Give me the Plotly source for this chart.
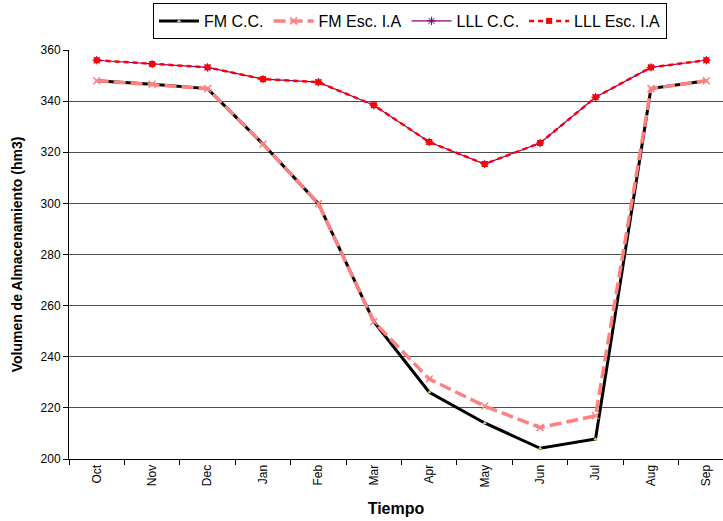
import plotly.graph_objects as go

months = ["Oct", "Nov", "Dec", "Jan", "Feb", "Mar", "Apr", "May", "Jun", "Jul", "Aug", "Sep"]
fm_cc = [348.0, 346.6, 344.9, 323.2, 299.9, 253.7, 226.1, 214.1, 204.2, 207.8, 344.9, 348.0]
fm_esc = [348.0, 346.6, 344.9, 323.2, 299.9, 253.7, 231.3, 220.7, 212.3, 216.9, 344.9, 348.0]
lll_cc = [356.0, 354.5, 353.2, 348.6, 347.4, 338.4, 324.0, 315.4, 323.6, 341.5, 353.2, 356.0]
lll_esc = [356.0, 354.5, 353.2, 348.6, 347.4, 338.4, 324.0, 315.4, 323.6, 341.5, 353.2, 356.0]

font_family = "Arial, Liberation Sans, sans-serif"

fig = go.Figure()
fig.add_trace(go.Scatter(
    x=months, y=fm_cc, name="FM C.C.", mode="lines+markers",
    line=dict(color="#000000", width=3),
    marker=dict(symbol="triangle-up", size=4, color="#C8C864"),
))
fig.add_trace(go.Scatter(
    x=months, y=fm_esc, name="FM Esc. I.A", mode="lines+markers",
    line=dict(color="#FF8080", width=3.5, dash="12px,5px"),
    marker=dict(symbol="x-thin", size=7, color="#FF8080", line=dict(color="#FF8080", width=1.5)),
))
fig.add_trace(go.Scatter(
    x=months, y=lll_cc, name="LLL C.C.", mode="lines+markers",
    line=dict(color="#800080", width=1.2),
    marker=dict(symbol="asterisk", size=7, color="#800080", line=dict(color="#800080", width=1)),
))
fig.add_trace(go.Scatter(
    x=months, y=lll_esc, name="LLL Esc. I.A", mode="lines+markers",
    line=dict(color="#FF0000", width=2.5, dash="5px,4px"),
    marker=dict(symbol="square", size=6, color="#FF0000"),
))

fig.update_layout(
    width=723, height=521,
    margin=dict(l=69, r=0, t=50, b=62, autoexpand=False),
    paper_bgcolor="white", plot_bgcolor="white",
    font=dict(family=font_family, size=12, color="#000000"),
    showlegend=True,
    legend=dict(
        orientation="h", x=410 / 723, xanchor="center", y=1 - 3 / 521, yanchor="top",
        xref="container", yref="container",
        bordercolor="#000000", borderwidth=1, bgcolor="white",
        font=dict(size=16, family=font_family),
        itemwidth=40, tracegroupgap=0,
    ),
    xaxis=dict(
        type="category", range=[-0.5, 11.3], automargin=False,
        tickangle=-90, tickfont=dict(size=12),
        ticks="outside", ticklen=5, tickcolor="#000000", tickson="boundaries",
        showline=True, linecolor="#000000", linewidth=1,
        showgrid=False, zeroline=False,
        title=dict(text="<b>Tiempo</b>", font=dict(size=16), standoff=16),
    ),
    yaxis=dict(
        range=[200, 360], dtick=20, tickfont=dict(size=12), automargin=False,
        ticks="outside", ticklen=5, tickcolor="#000000",
        showline=True, linecolor="#000000", linewidth=1,
        showgrid=True, gridcolor="#4d4d4d", gridwidth=1, zeroline=False,
        title=dict(text="<b>Volumen de Almacenamiento (hm3)</b>", font=dict(size=14), standoff=14),
    ),
)

fig.write_html("out.html", config={"displayModeBar": False},
               post_script="document.body.style.margin='0';")
